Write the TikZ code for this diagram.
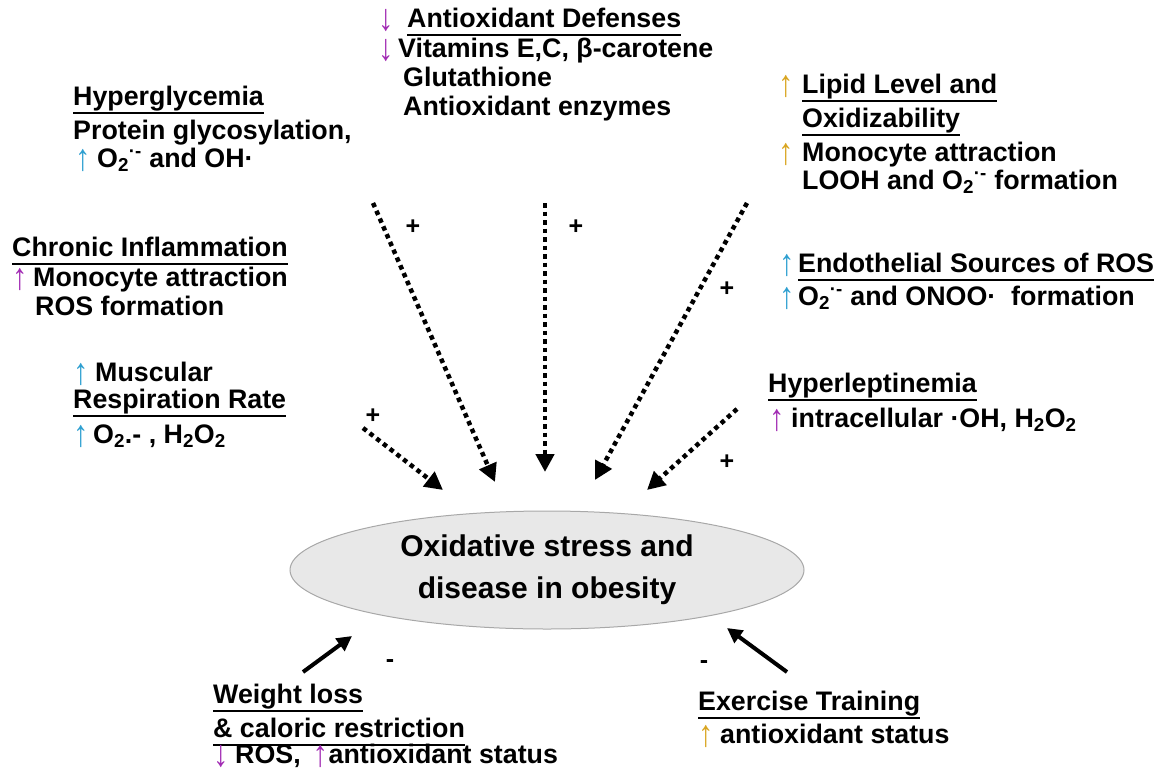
\documentclass[tikz,border=0pt]{standalone}
\usepackage{fontspec}
\setmainfont{Liberation Sans}
\usetikzlibrary{arrows.meta,shapes.geometric}
\definecolor{upteal}{HTML}{2E9FD0}
\definecolor{upgold}{HTML}{D9A520}
\definecolor{uppurple}{HTML}{A22CB4}
\definecolor{ovalfill}{HTML}{E8E8E8}
\definecolor{ovalline}{HTML}{A8A8A8}
\newcommand\hd[1]{\sbox0{#1}\rlap{\smash{\rule[-9pt]{\wd0}{2.5pt}}}\usebox0}
\newcommand\upa[2][20pt]{\makebox[#1][l]{\normalfont\textcolor{#2}{\smash{\raisebox{-3pt}{\scalebox{1.15}[1.4]{↑}}}}}}
\newcommand\dna[2][20pt]{\makebox[#1][l]{\normalfont\textcolor{#2}{\smash{\raisebox{-3pt}{\scalebox{1.15}[1.4]{↓}}}}}}
\tikzset{
  txt/.style={anchor=base west, inner sep=0pt, font=\fontsize{26.8}{28}\selectfont\bfseries},
  sign/.style={inner sep=0pt, font=\fontsize{25}{25}\selectfont\bfseries},
  dotarrow/.style={line width=4.5pt, dash pattern=on 4.5pt off 4pt, -{Triangle[width=18pt,length=18pt]}},
  solidarrow/.style={line width=4pt, -{Triangle[width=15pt,length=15pt]}},
  oval/.style={ellipse, draw=ovalline, fill=ovalfill, line width=1pt, inner sep=0pt,
    minimum width=514pt, minimum height=118pt, align=center,
    font=\fontsize{30}{42}\selectfont\bfseries}
}
\begin{document}
\begin{tikzpicture}[x=1pt,y=-1pt]
  \useasboundingbox (0,0) rectangle (1163,769);
  % centre
  \node[oval] (ox) at (547,570) {Oxidative stress and\\disease in obesity};
  % hyperglycemia
  \node[txt] (hyg) at (73,105) {\hd{Hyperglycemia}};
  \node[txt] (hyg2) at (73,139) {Protein glycosylation,};
  \node[txt] (hyg3) at (75,167) {\upa[22pt]{upteal}O\textsubscript{2}\textsuperscript{·-} and OH·};
  % antioxidant defenses
  \node[txt] (aox) at (378,27) {\dna[29pt]{uppurple}\hd{Antioxidant Defenses}};
  \node[txt] (aox2) at (378,57) {\dna{uppurple}Vitamins E,C, β-carotene};
  \node[txt] (aox3) at (403,86) {Glutathione};
  \node[txt] (aox4) at (403,115) {Antioxidant enzymes};
  % lipid
  \node[txt] (lip) at (778,93) {\upa[24pt]{upgold}\hd{Lipid Level and}};
  \node[txt] (lip2) at (802,127) {\hd{Oxidizability}};
  \node[txt] (lip3) at (778,161) {\upa[24pt]{upgold}Monocyte attraction};
  \node[txt] (lip4) at (802,189) {LOOH and O\textsubscript{2}\textsuperscript{·-} formation};
  % chronic inflammation
  \node[txt] (chr) at (12,256) {\hd{Chronic Inflammation}};
  \node[txt] (chr2) at (12,286) {\upa[21pt]{uppurple}Monocyte attraction};
  \node[txt] (chr3) at (35,315) {ROS formation};
  % endothelial
  \node[txt] (end) at (779,272) {\upa[19pt]{upteal}\hd{Endothelial Sources of ROS}};
  \node[txt] (end2) at (779,305) {\upa[19pt]{upteal}O\textsubscript{2}\textsuperscript{·-} and ONOO·\ \ formation};
  % muscular
  \node[txt] (mus) at (73,381) {\upa[22pt]{upteal}Muscular};
  \node[txt] (mus2) at (73,408) {\hd{Respiration Rate}};
  \node[txt] (mus3) at (73,443) {\upa{upteal}O\textsubscript{2}.- , H\textsubscript{2}O\textsubscript{2}};
  % hyperleptinemia
  \node[txt] (lep) at (768,392) {\hd{Hyperleptinemia}};
  \node[txt] (lep2) at (769,427) {\upa[22pt]{uppurple}intracellular ·OH, H\textsubscript{2}O\textsubscript{2}};
  % weight loss
  \node[txt] (wl) at (213,703) {\hd{Weight loss}};
  \node[txt] (wl2) at (213,737) {\hd{\& caloric restriction}};
  \node[txt] (wl3) at (213,763) {\dna[22pt]{uppurple}ROS,\hspace{12pt}\upa[16pt]{uppurple}antioxidant status};
  % exercise
  \node[txt] (ex) at (698,710) {\hd{Exercise Training}};
  \node[txt] (ex2) at (698,743) {\upa[22pt]{upgold}antioxidant status};
  % arrow ends
  \coordinate (a1) at (373,203); \coordinate (b1) at (495,482);
  \coordinate (a2) at (545,203); \coordinate (b2) at (545,472);
  \coordinate (a3) at (747,203); \coordinate (b3) at (595,480);
  \coordinate (a4) at (363,428); \coordinate (b4) at (443,490);
  \coordinate (a5) at (737,409); \coordinate (b5) at (647,490);
  \coordinate (wlt) at (303,672); \coordinate (wlh) at (352,636);
  \coordinate (ext) at (787,672); \coordinate (exh) at (727,628);
  \draw[dotarrow] (a1) -- (b1);
  \draw[dotarrow] (a2) -- (b2);
  \draw[dotarrow] (a3) -- (b3);
  \draw[dotarrow] (a4) -- (b4);
  \draw[dotarrow] (a5) -- (b5);
  \draw[solidarrow] (wlt) -- (wlh);
  \draw[solidarrow] (ext) -- (exh);
  % signs
  \node[sign] (p1) at (413,227) {+};
  \node[sign] (p2) at (576,227) {+};
  \node[sign] (p3) at (727,289) {+};
  \node[sign] (p4) at (373,416) {+};
  \node[sign] (p5) at (727,462) {+};
  \node[sign] (m1) at (390,664) {-};
  \node[sign] (m2) at (704,665) {-};
\end{tikzpicture}
\end{document}
